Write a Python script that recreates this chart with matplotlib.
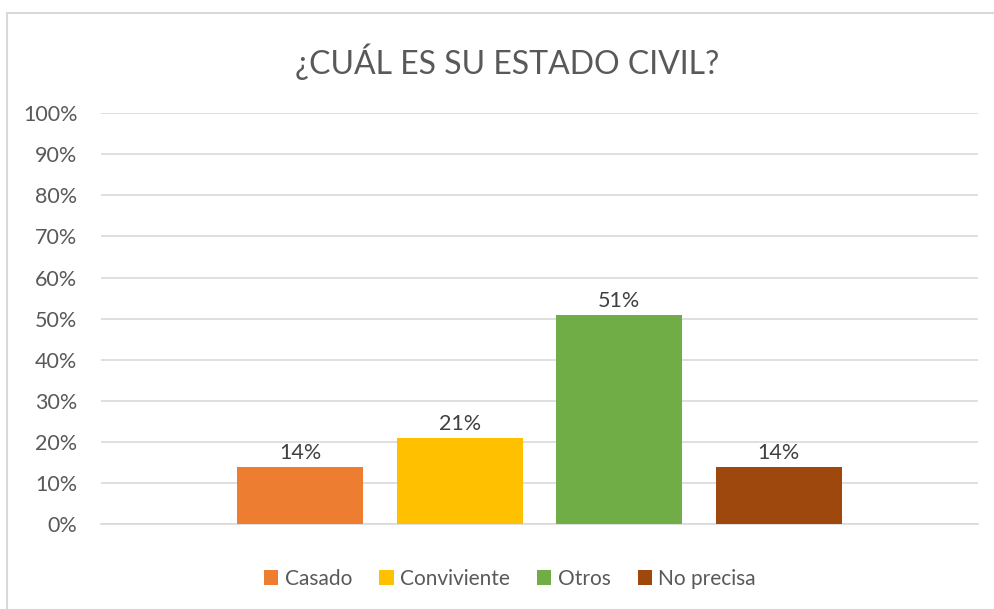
import matplotlib.pyplot as plt
from matplotlib.patches import Rectangle
from matplotlib.ticker import PercentFormatter

# data
categories = ["Casado", "Conviviente", "Otros", "No precisa"]
values = [14, 21, 51, 14]
colors = ["#ED7D31", "#FFC000", "#70AD47", "#9E480E"]
yticks = list(range(0, 101, 10))

plt.rcParams['font.family'] = ['Lato', 'DejaVu Sans']
text_color = "#595959"

fig = plt.figure(figsize=(9.95, 6.09), dpi=100)
ax = fig.add_axes([0.1015, 0.1388, 0.8814, 0.6756])

# chart border (Excel frame)
fig.patches.append(Rectangle(
    (7.5 / 995, -0.1), 1.2, 1.1 - 13.5 / 609,
    transform=fig.transFigure, fill=False,
    edgecolor="#D9D9D9", linewidth=1.5
))

group_center = 0.5
step = 0.182
width = 0.1437

for i, (name, val, col) in enumerate(zip(categories, values, colors)):
    x = group_center + (i - 1.5) * step
    ax.bar(x, val, width=width, color=col, label=name, zorder=3)
    ax.text(
        x, val + 1.0, f"{val}%",
        ha='center', va='bottom',
        fontsize=15.5, color="#404040"
    )

ax.set_xlim(0, 1)
ax.set_ylim(0, 100)
ax.set_yticks(yticks)
ax.yaxis.set_major_formatter(PercentFormatter(decimals=0))
ax.set_xticks([])

ax.grid(axis='y', color="#D9D9D9", linewidth=1.2, zorder=0)
for s in ["top", "right", "left"]:
    ax.spines[s].set_visible(False)
ax.spines["bottom"].set_color("#D9D9D9")
ax.spines["bottom"].set_linewidth(1.2)

ax.tick_params(axis='y', length=0, pad=17, labelsize=15.5, labelcolor=text_color)

fig.text(
    0.5095, 1 - 62 / 609, "¿CUÁL ES SU ESTADO CIVIL?",
    ha='center', va='center', fontsize=23, color=text_color
)

fig.legend(
    loc='center', bbox_to_anchor=(0.5125, 1 - 579 / 609),
    ncol=4, frameon=False, fontsize=15,
    handlelength=0.7, handleheight=0.7, handletextpad=0.3,
    columnspacing=1.3, labelcolor=text_color
)

plt.savefig("out.png", dpi=100)
